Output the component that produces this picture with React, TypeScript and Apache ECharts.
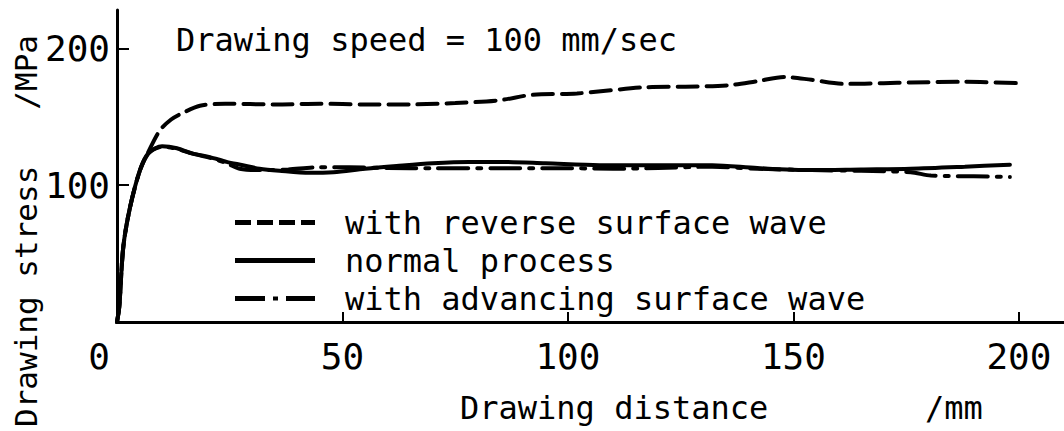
import React, { useEffect, useRef } from "react";
import * as echarts from "echarts";

// Drawing distance (mm) / drawing stress (MPa)
const reverseDist = [0, 0.5, 1.4, 2.9, 5.1, 6.9, 9.5, 12, 14.4, 18.4, 24, 35, 45, 55, 65, 75, 84.7, 92, 102, 117, 126, 135.6, 142, 148, 154, 161.5, 170, 176, 188, 200];
const reverseStress = [0, 11, 55, 84, 111, 124, 140, 148, 152.5, 158, 159.5, 159, 159.5, 159, 159, 160, 162, 166, 167, 171.5, 172, 173, 176, 179, 177, 174, 174.5, 175, 175.5, 174.5];

const normalDist = [0, 0.5, 1.4, 2.9, 5.1, 6.9, 8.5, 10, 13.3, 16.8, 20.6, 24.3, 27.9, 31.6, 36, 42.7, 48, 55, 62, 70, 78, 84.7, 95, 107, 120, 132, 142, 154, 165, 176, 188, 198];
const normalStress = [0, 11, 55, 84, 111, 123, 127, 128.5, 127, 123, 120.5, 117, 114.6, 112, 110.5, 109, 109.5, 112, 114, 116, 117, 117, 116, 114.6, 114.6, 114.6, 112.5, 111, 111.5, 112, 113.5, 115];

const advDist = [0, 0.5, 1.4, 2.9, 5.1, 6.9, 10, 13.3, 16.8, 20.6, 24.3, 27.2, 31.6, 38, 44, 51.5, 60, 70, 84.7, 99.5, 110, 120, 132, 142, 154, 165, 176, 180.5, 190, 198];
const advStress = [0, 11, 55, 84, 111, 123, 128, 126.5, 123, 120, 116, 112, 111, 111.5, 113, 113, 112.5, 112.4, 112.4, 112.4, 112, 112.5, 113.5, 112, 111, 110.5, 109.5, 107, 106.5, 106];

const seriesNames = ["with reverse surface wave", "normal process", "with advancing surface wave"];
const xTicks = { min: 0, max: 210, interval: 50 };
const xTickValues = [0, 50, 100, 150, 200];
const yRange = { min: 0, max: 228 };
const yTickValues = [100, 200];
const titleText = "Drawing speed = 100 mm/sec";
const yTitle = "Drawing stress   /MPa";
const xTitle = "Drawing distance";
const xUnit = "/mm";

const MONO = "'DejaVu Sans Mono', 'Liberation Mono', monospace";

// legend icons (80 x 5 boxes) mimicking the line styles
const ICON_DASH = "path://M0,0h16v5h-16z M22,0h16v5h-16z M44,0h16v5h-16z M66,0h14v5h-14z";
const ICON_SOLID = "path://M0,0h80v5h-80z";
const ICON_DASHDOT = "path://M0,0h30v5h-30z M38,0.5h5v4h-5z M51,0h29v5h-29z";
const legendIcons = [ICON_DASH, ICON_SOLID, ICON_DASHDOT];

const pairs = (xs: number[], ys: number[]) => xs.map((x, i) => [x, ys[i]]);

export default function App() {
  const ref = useRef<HTMLDivElement>(null);
  useEffect(() => {
    if (!ref.current) return;
    const chart = echarts.init(ref.current, undefined, { renderer: "svg" });
    const lineBase = { type: "line", showSymbol: false, symbol: "none", smooth: 0.3 };
    chart.setOption({
      animation: false,
      backgroundColor: "#ffffff",
      grid: { left: 117, right: 0, top: 10, bottom: 109, containLabel: false },
      xAxis: {
        type: "value",
        min: xTicks.min,
        max: xTicks.max,
        interval: xTicks.interval,
        axisLine: { show: true, onZero: false, lineStyle: { color: "#000", width: 3 } },
        axisTick: { show: true, inside: true, length: 10, customValues: xTickValues.slice(1), lineStyle: { color: "#000", width: 2 } },
        splitLine: { show: false },
        axisLabel: {
          color: "#000",
          fontFamily: MONO,
          fontSize: 36,
          margin: 16,
          customValues: xTickValues,
          formatter: (v: number) => (v === 0 ? "{z|0}" : String(v)),
          rich: { z: { fontFamily: MONO, fontSize: 36, color: "#000", padding: [0, 36, 0, 0] } },
        },
      },
      yAxis: {
        type: "value",
        min: yRange.min,
        max: yRange.max,
        axisLine: { show: true, onZero: false, lineStyle: { color: "#000", width: 3 } },
        axisTick: { show: true, inside: true, length: 12, customValues: yTickValues, lineStyle: { color: "#000", width: 2 } },
        splitLine: { show: false },
        axisLabel: {
          color: "#000",
          fontFamily: MONO,
          fontSize: 36,
          margin: 7,
          customValues: yTickValues,
          formatter: (v: number) => String(v),
        },
      },
      legend: {
        orient: "vertical",
        left: 235,
        top: 204,
        itemWidth: 80,
        itemHeight: 5,
        itemGap: 1,
        padding: 0,
        selectedMode: false,
        data: seriesNames.map((name, i) => ({ name, icon: legendIcons[i], itemStyle: { color: "#000" } })),
        textStyle: { fontFamily: MONO, fontSize: 32, color: "#000", lineHeight: 37, padding: [0, 0, 0, 25] },
      },
      graphic: [
        {
          type: "text",
          left: 176,
          top: 24,
          style: { text: titleText, fontFamily: MONO, fontSize: 32, fill: "#000" },
        },
        {
          type: "text",
          x: 26,
          y: 231,
          rotation: Math.PI / 2,
          style: { text: yTitle, fontFamily: MONO, fontSize: 31, fill: "#000", align: "center", verticalAlign: "middle" },
        },
        {
          type: "text",
          x: 460,
          y: 408,
          style: { text: xTitle, fontFamily: MONO, fontSize: 32, fill: "#000", align: "left", verticalAlign: "middle" },
        },
        {
          type: "text",
          x: 925,
          y: 408,
          style: { text: xUnit, fontFamily: MONO, fontSize: 32, fill: "#000", align: "left", verticalAlign: "middle" },
        },
      ],
      series: [
        {
          ...lineBase,
          name: seriesNames[0],
          data: pairs(reverseDist, reverseStress),
          lineStyle: { color: "#000", width: 4, type: [20, 9], cap: "round" },
          itemStyle: { color: "#000" },
          z: 3,
        },
        {
          ...lineBase,
          name: seriesNames[1],
          data: pairs(normalDist, normalStress),
          lineStyle: { color: "#000", width: 4, type: "solid", cap: "round" },
          itemStyle: { color: "#000" },
          z: 4,
        },
        {
          ...lineBase,
          name: seriesNames[2],
          data: pairs(advDist, advStress),
          lineStyle: { color: "#000", width: 4, type: [30, 9, 4, 9], cap: "round" },
          itemStyle: { color: "#000" },
          z: 2,
        },
      ],
    });
    return () => chart.dispose();
  }, []);
  return <div ref={ref} style={{ position: "fixed", left: 0, top: 0, width: 1064, height: 431 }} />;
}
